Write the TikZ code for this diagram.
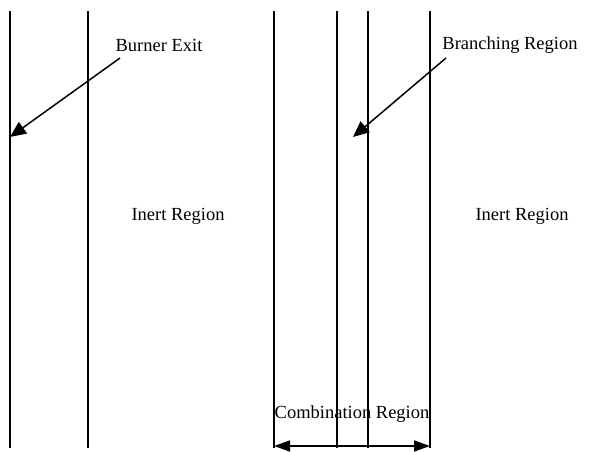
\documentclass[tikz,border=0pt]{standalone}
\usepackage{fontspec}
\setmainfont{Liberation Serif}
\usetikzlibrary{arrows.meta}
\begin{document}
\begin{tikzpicture}[x=1pt,y=-1pt,
  wall/.style={line width=1.5pt},
  pointer/.style={line width=1.5pt,-{Triangle[length=16pt,width=14pt]}},
  span/.style={line width=1.5pt,{Triangle[length=16pt,width=11pt]}-{Triangle[length=16pt,width=11pt]}},
  lbl/.style={font=\fontsize{18.5}{20}\selectfont,inner sep=0pt}]
\useasboundingbox (0,0) rectangle (611,451);
% walls
\foreach \n/\x in {w1/10,w2/88,w3/274,w4/337,w5/368,w6/430}{
  \coordinate (\n t) at (\x,11);
  \coordinate (\n b) at (\x,448);
  \draw[wall] (\n t) -- (\n b);
}
% labels
\node[lbl] (burner) at (159,45) {Burner Exit};
\node[lbl] (branch) at (510,45) {Branching Region};
\node[lbl] (inert1) at (178,216) {Inert Region};
\node[lbl] (inert2) at (522,216) {Inert Region};
\node[lbl] (comb) at (352,414) {Combination Region};
% arrows
\coordinate (bs) at (120,58);
\coordinate (be) at (10,137);
\draw[pointer] (bs) -- (be);
\coordinate (rs) at (446,58);
\coordinate (re) at (353,137);
\draw[pointer] (rs) -- (re);
\coordinate (cl) at (274,446);
\coordinate (cr) at (430,446);
\draw[span] (cl) -- (cr);
\end{tikzpicture}
\end{document}
